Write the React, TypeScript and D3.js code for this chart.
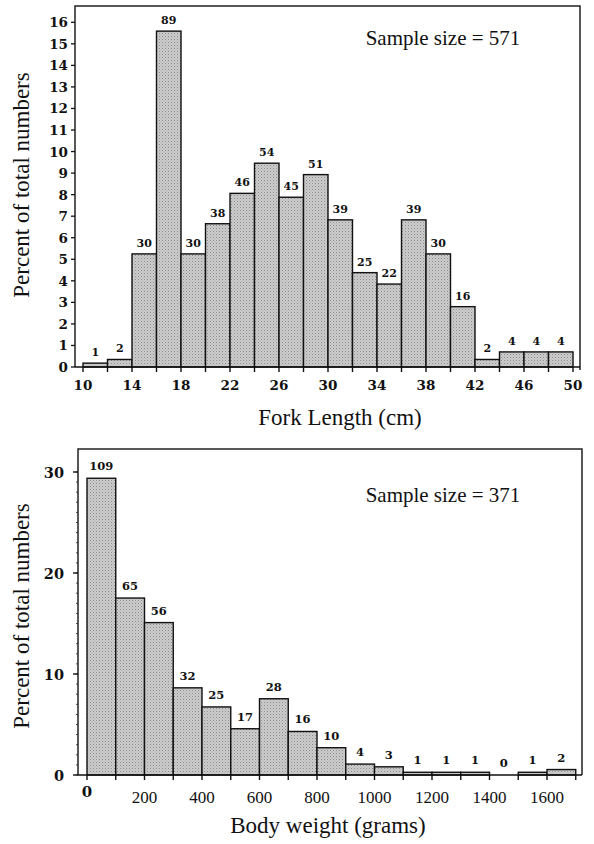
import React from "react";
import * as d3 from "d3";

// Fork length histogram (bin start, cm), counts and percent of total
const lenBins = [10, 12, 14, 16, 18, 20, 22, 24, 26, 28, 30, 32, 34, 36, 38, 40, 42, 44, 46, 48];
const lenCounts = [1, 2, 30, 89, 30, 38, 46, 54, 45, 51, 39, 25, 22, 39, 30, 16, 2, 4, 4, 4];
const lenPercent = [0.18, 0.35, 5.25, 15.59, 5.25, 6.65, 8.06, 9.46, 7.88, 8.93, 6.83, 4.38, 3.85, 6.83, 5.25, 2.8, 0.35, 0.7, 0.7, 0.7];
const lenXTicks = [10, 14, 18, 22, 26, 30, 34, 38, 42, 46, 50];
const lenYTicks = [0, 1, 2, 3, 4, 5, 6, 7, 8, 9, 10, 11, 12, 13, 14, 15, 16];

// Body weight histogram (bin start, grams)
const wtBins = [0, 100, 200, 300, 400, 500, 600, 700, 800, 900, 1000, 1100, 1200, 1300, 1400, 1500, 1600];
const wtCounts = [109, 65, 56, 32, 25, 17, 28, 16, 10, 4, 3, 1, 1, 1, 0, 1, 2];
const wtPercent = [29.38, 17.52, 15.09, 8.63, 6.74, 4.58, 7.55, 4.31, 2.7, 1.08, 0.81, 0.27, 0.27, 0.27, 0, 0.27, 0.54];
const wtXTicks = [0, 200, 400, 600, 800, 1000, 1200, 1400, 1600];
const wtYTicks = [0, 10, 20, 30];

const serif = "'Liberation Serif', 'Times New Roman', serif";
const boldSerif = "'DejaVu Serif', serif";

export default function App() {
  // top chart scales
  const x1 = d3.scaleLinear().domain([10, 50]).range([83, 573]);
  const y1 = d3.scaleLinear().domain([0, 16]).range([367, 22.3]);
  const frame1 = { left: 75, right: 580, top: 6, bottom: 367 };

  // bottom chart scales
  const x2 = d3.scaleLinear().domain([0, 1700]).range([87, 575.75]);
  const y2 = d3.scaleLinear().domain([0, 30]).range([775, 472]);
  const frame2 = { left: 78, right: 582, top: 449, bottom: 775 };

  const fill = "#c3c3c3";
  const edgeTicks1 = d3.range(10, 51, 2);
  const edgeTicks2 = d3.range(0, 1701, 100);
  const minor2 = d3.range(0, 31, 1);

  return (
    <svg width={594} height={844} style={{ position: "absolute", left: 0, top: 0, background: "#fff" }}>
      <defs>
        <pattern id="stip" width={3} height={3} patternUnits="userSpaceOnUse">
          <rect width={3} height={3} fill="#cdcdcd" />
          <rect x={0} y={0} width={1} height={1} fill="#8a8a8a" />
          <rect x={1.5} y={1.5} width={1} height={1} fill="#a5a5a5" />
        </pattern>
      </defs>
      <rect x={0} y={0} width={594} height={844} fill="#fff" />
      {/* ---------- Top chart ---------- */}
      <g>
        {lenBins.map((b, i) => (
          <rect key={i} x={x1(b)} y={y1(lenPercent[i])} width={x1(b + 2) - x1(b)} height={y1(0) - y1(lenPercent[i])}
            fill="url(#stip)" stroke="#111" strokeWidth={1.4} />
        ))}
        {lenBins.map((b, i) => (
          <text key={"l" + i} x={x1(b + 1)} y={y1(lenPercent[i]) - 7} textAnchor="middle" fontFamily={boldSerif}
            fontWeight="bold" fontSize={11} fill="#111">{lenCounts[i]}</text>
        ))}
        <path d={`M${frame1.left},${frame1.bottom}V${frame1.top}H${frame1.right}V${frame1.bottom + 3}`} fill="none" stroke="#222" strokeWidth={1.5} />
        <line x1={frame1.left} x2={frame1.right} y1={frame1.bottom} y2={frame1.bottom} stroke="#111" strokeWidth={1.6} />
        {edgeTicks1.map((t) => (
          <line key={"xt" + t} x1={x1(t)} x2={x1(t)} y1={frame1.bottom} y2={frame1.bottom + 5} stroke="#111" strokeWidth={1.4} />
        ))}
        {lenXTicks.map((t) => (
          <text key={"xl" + t} x={x1(t)} y={390} textAnchor="middle" fontFamily={boldSerif} fontWeight="bold" fontSize={13.5} fill="#111">{t}</text>
        ))}
        {lenYTicks.map((t) => (
          <g key={"yt" + t}>
            <line x1={frame1.left - 4} x2={frame1.left} y1={y1(t)} y2={y1(t)} stroke="#111" strokeWidth={1.3} />
            <text x={68} y={y1(t) + 5} textAnchor="end" fontFamily={boldSerif} fontWeight="bold" fontSize={13.5} fill="#111">{t}</text>
          </g>
        ))}
        <text x={443} y={45} textAnchor="middle" fontFamily={serif} fontSize={21} fill="#111">Sample size = 571</text>
        <text x={340} y={425} textAnchor="middle" fontFamily={serif} fontSize={23} fill="#111">Fork Length (cm)</text>
        <text transform="translate(29,185) rotate(-90)" textAnchor="middle" fontFamily={serif} fontSize={23} fill="#111">Percent of total numbers</text>
      </g>

      {/* ---------- Bottom chart ---------- */}
      <g>
        {wtBins.map((b, i) => (
          <rect key={i} x={x2(b)} y={y2(wtPercent[i])} width={x2(b + 100) - x2(b)} height={y2(0) - y2(wtPercent[i])}
            fill="url(#stip)" stroke="#111" strokeWidth={1.4} />
        ))}
        {wtBins.map((b, i) => (
          <text key={"l" + i} x={x2(b + 50)} y={y2(wtPercent[i]) - 8} textAnchor="middle" fontFamily={boldSerif}
            fontWeight="bold" fontSize={11.5} fill="#111">{wtCounts[i]}</text>
        ))}
        <path d={`M${frame2.left},${frame2.bottom}V${frame2.top}H${frame2.right}V${frame2.bottom}`} fill="none" stroke="#222" strokeWidth={1.5} />
        <line x1={frame2.left} x2={frame2.right} y1={frame2.bottom} y2={frame2.bottom} stroke="#111" strokeWidth={1.6} />
        {edgeTicks2.map((t) => (
          <line key={"xt" + t} x1={x2(t)} x2={x2(t)} y1={frame2.bottom} y2={frame2.bottom + 5} stroke="#111" strokeWidth={1.4} />
        ))}
        {wtXTicks.map((t) => (
          <text key={"xl" + t} x={x2(t)} y={t === 0 ? 797 : 803} textAnchor="middle" fontFamily={t === 0 ? boldSerif : serif}
            fontWeight={t === 0 ? "bold" : "normal"} fontSize={t === 0 ? 15 : 17} fill="#111">{t}</text>
        ))}
        {minor2.map((t) => (
          <line key={"ym" + t} x1={frame2.left - 2} x2={frame2.left} y1={y2(t)} y2={y2(t)} stroke="#333" strokeWidth={0.9} />
        ))}
        {wtYTicks.map((t) => (
          <g key={"yt" + t}>
            <line x1={frame2.left - 5} x2={frame2.left} y1={y2(t)} y2={y2(t)} stroke="#111" strokeWidth={1.4} />
            <text x={64} y={y2(t) + 5.5} textAnchor="end" fontFamily={boldSerif} fontWeight="bold" fontSize={14.5} fill="#111">{t}</text>
          </g>
        ))}
        <text x={443} y={502} textAnchor="middle" fontFamily={serif} fontSize={21} fill="#111">Sample size = 371</text>
        <text x={328} y={833} textAnchor="middle" fontFamily={serif} fontSize={23} fill="#111">Body weight (grams)</text>
        <text transform="translate(29,616) rotate(-90)" textAnchor="middle" fontFamily={serif} fontSize={23} fill="#111">Percent of total numbers</text>
      </g>
    </svg>
  );
}
